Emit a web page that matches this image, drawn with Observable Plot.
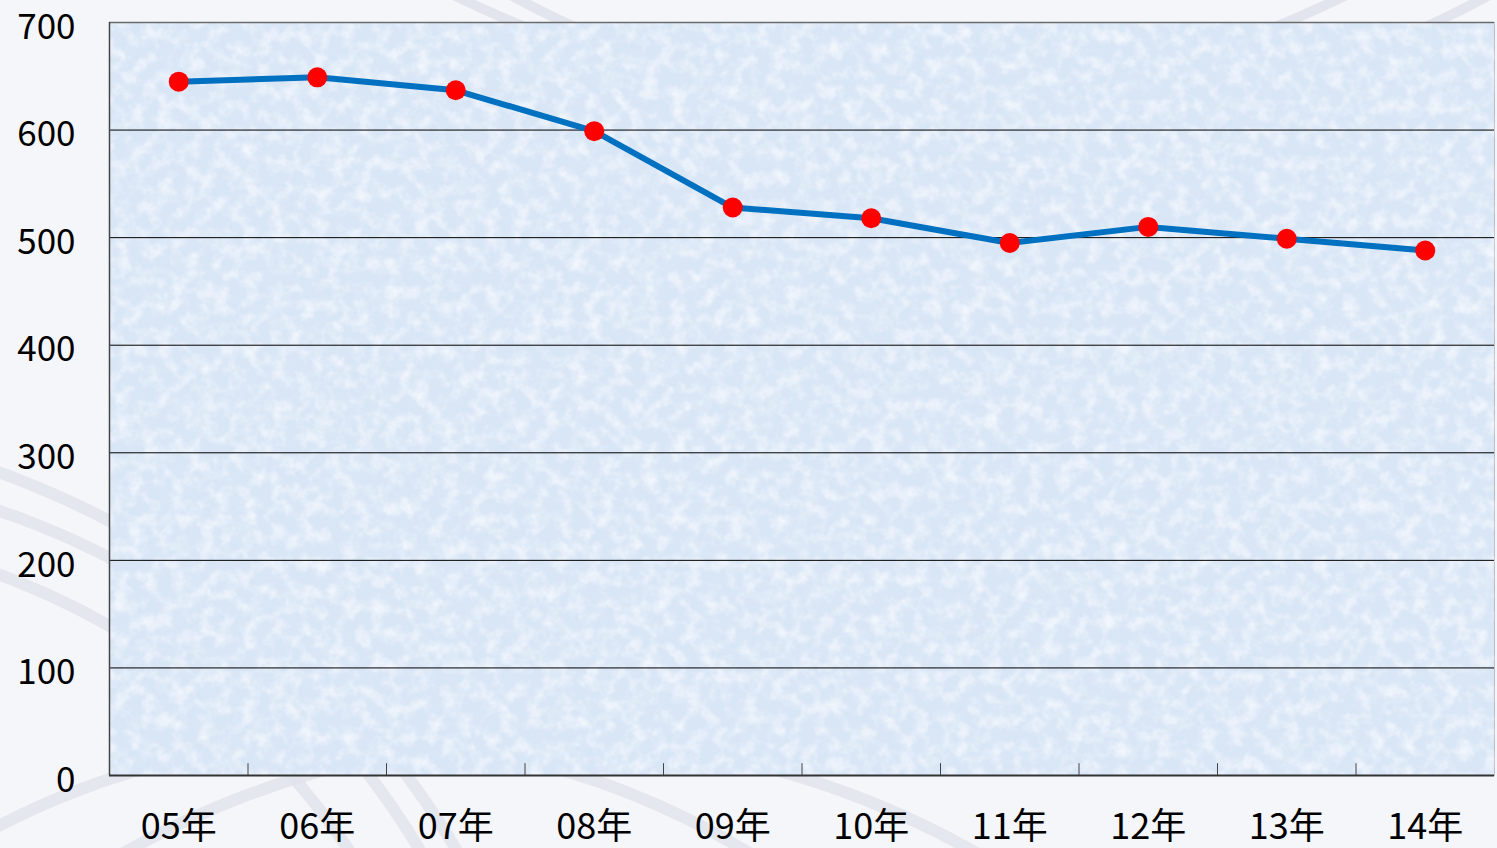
<!DOCTYPE html>
<html>
<head>
<meta charset="utf-8">
<script src="https://cdn.jsdelivr.net/npm/d3@7"></script>
<script src="https://cdn.jsdelivr.net/npm/@observablehq/plot@0.6"></script>
<style>
  html, body { margin: 0; padding: 0; background: #f4f6fa; overflow: hidden; }
  #wrap { position: relative; width: 1497px; height: 848px; }
  #deco { position: absolute; left: 0; top: 0; }
  #chart { position: absolute; left: 0; top: 0; }
</style>
</head>
<body>
<div id="wrap">
  <svg id="deco" width="1497" height="848"></svg>
  <div id="chart"></div>
</div>
<script>
// ---- data ----
const years = ["05年", "06年", "07年", "08年", "09年", "10年", "11年", "12年", "13年", "14年"];
const values = [645, 649, 637, 599, 528, 518, 495, 510, 499, 488];
const yTicks = [0, 100, 200, 300, 400, 500, 600, 700];
const gridTicks = [100, 200, 300, 400, 500, 600];

const data = years.map((label, i) => ({ i: i + 0.5, label, value: values[i] }));
const boundaries = d3.range(1, years.length);

// ---- decorative background arcs (page background only) ----
const deco = d3.select("#deco");
[[-250, 1250, 720], [-250, 1250, 780], [-300, 1300, 880], [350, 1500, 760], [550, 1600, 860]].forEach(([cx, cy, r]) => {
  deco.append("circle").attr("cx", cx).attr("cy", cy).attr("r", r)
    .attr("fill", "none").attr("stroke", "#e1e4ec").attr("stroke-width", 12).attr("opacity", 0.8);
});
[[900, -900, 1000], [1000, -900, 1020]].forEach(([cx, cy, r]) => {
  deco.append("circle").attr("cx", cx).attr("cy", cy).attr("r", r)
    .attr("fill", "none").attr("stroke", "#e2e5ed").attr("stroke-width", 10);
});

const chart = Plot.plot({
  width: 1497,
  height: 848,
  marginLeft: 109,
  marginRight: 3,
  marginTop: 22,
  marginBottom: 73,
  style: { background: "transparent", fontFamily: "'Noto Sans CJK JP', 'Noto Sans', sans-serif", fontSize: "35px", color: "#000" },
  x: { domain: [0, years.length], label: null },
  y: { domain: [0, 700], label: null },
  marks: [
    Plot.frame({ fill: "#d9e6f6", stroke: "#b8bcc4" }),
    Plot.frame({ fill: "#f0f5fc", stroke: "none" }),
    Plot.gridY(gridTicks, { stroke: "#000", strokeOpacity: 1, strokeWidth: 1 }),
    Plot.ruleY([700], { stroke: "#6b6b6b", strokeWidth: 1.5 }),
    Plot.ruleX([0], { stroke: "#444", strokeWidth: 1.5 }),
    Plot.ruleY([0], { stroke: "#333", strokeWidth: 2 }),
    Plot.ruleX(boundaries, { y1: 0, y2: 11, stroke: "#444", strokeWidth: 1 }),
    Plot.axisY(yTicks, { tickSize: 0, tickPadding: 34, fontSize: 35, textAnchor: "end", dy: 5 }),
    Plot.axisX(data.map(d => d.i), { tickSize: 0, tickPadding: 38, fontSize: 36, tickFormat: t => years[Math.floor(t)] }),
    Plot.line(data, { x: "i", y: "value", stroke: "#0070c0", strokeWidth: 6 }),
    Plot.dot(data, { x: "i", y: "value", r: 10, fill: "#ff0000", stroke: "none" })
  ]
});

// subtle paper-like mottled texture on the plot area (applied to the second frame)
const svg = d3.select(chart);
const defs = svg.insert("defs", ":first-child");
const f = defs.append("filter").attr("id", "noise")
  .attr("filterUnits", "objectBoundingBox").attr("x", 0).attr("y", 0).attr("width", 1).attr("height", 1);
f.append("feTurbulence").attr("type", "fractalNoise").attr("baseFrequency", 0.07).attr("numOctaves", 3).attr("seed", 7).attr("result", "n");
f.append("feColorMatrix").attr("in", "n").attr("type", "matrix")
  .attr("values", "0 0 0 0 0.94  0 0 0 0 0.96  0 0 0 0 0.99  2.2 0 0 0 -0.9").attr("result", "a");
f.append("feComposite").attr("in", "a").attr("in2", "SourceGraphic").attr("operator", "in");
const rects = svg.selectAll("rect").nodes();
if (rects.length > 1) {
  d3.select(rects[1]).attr("filter", "url(#noise)").attr("opacity", 0.8);
}

document.getElementById("chart").appendChild(chart);
</script>
</body>
</html>
